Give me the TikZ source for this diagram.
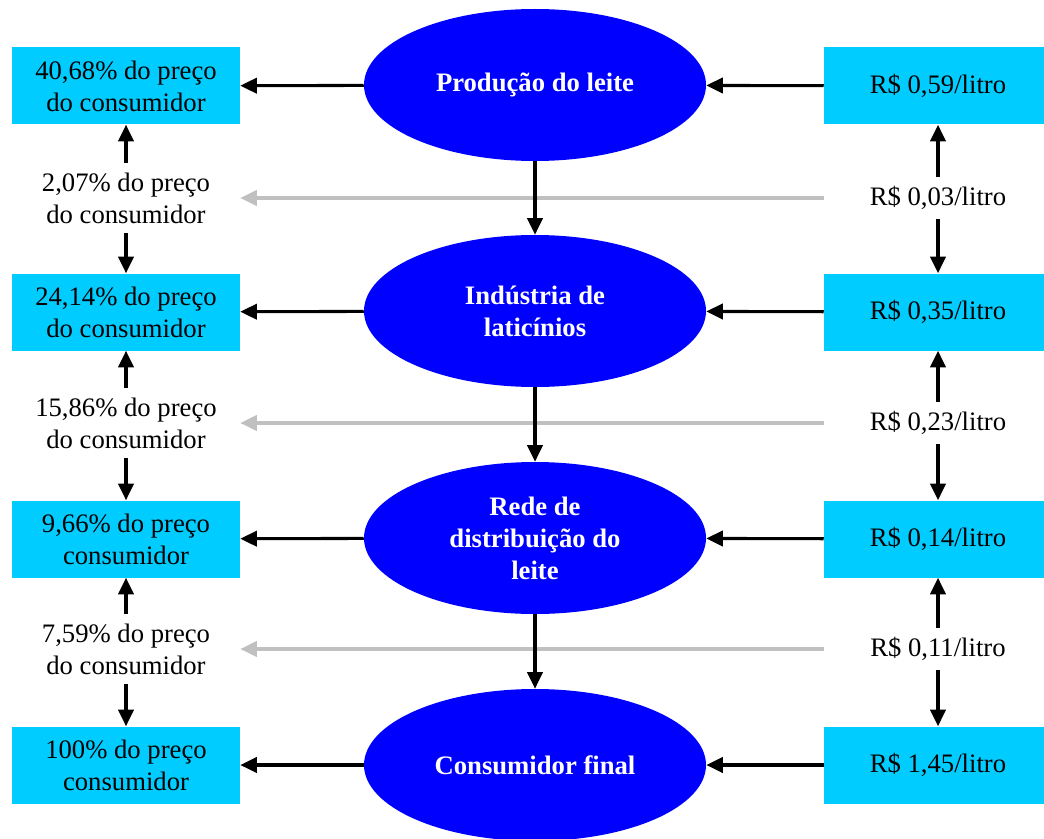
\documentclass[tikz,border=0pt]{standalone}
\usepackage{fontspec}
\setmainfont{Liberation Serif}
\usetikzlibrary{shapes.geometric,arrows.meta}
\definecolor{cxazul}{HTML}{00CCFF}
\definecolor{elazul}{HTML}{0000FF}
\definecolor{cinza}{HTML}{C0C0C0}

\begin{document}
\begin{tikzpicture}[x=0.75pt, y=-0.75pt, font=\fontsize{20}{24}\selectfont,
  caixa/.style={fill=cxazul, minimum width=171pt, minimum height=57.75pt,
                align=center, inner sep=2pt},
  etapa/.style={ellipse, fill=elazul, minimum width=256.5pt, minimum height=114pt,
                inner sep=0pt, align=center, text=white,
                font=\fontsize{20}{24}\selectfont\bfseries},
  parcela/.style={minimum width=171pt, align=center, inner sep=7pt},
  arr/.style={-{Triangle[length=12.5pt,width=11.5pt]}, line width=2.3pt},
  marg/.style={arr, color=cinza}]

\useasboundingbox (0,0) rectangle (1044,838);
\clip (0,0) rectangle (1044,838);

% etapas da cadeia
\node[etapa] (e1) at (535,85) {Produção do leite};
\node[etapa] (e2) at (535,311) {Indústria de\\laticínios};
\node[etapa] (e3) at (535,538) {Rede de\\distribuição do\\leite};
\node[etapa] (e4) at (535,765) {Consumidor final};

% participacao no preco
\node[caixa] (l1) at (126,86) {40,68\% do preço\\do consumidor};
\node[caixa] (l2) at (126,312) {24,14\% do preço\\do consumidor};
\node[caixa] (l3) at (126,539) {9,66\% do preço\\consumidor};
\node[caixa] (l4) at (126,765) {100\% do preço\\consumidor};

\node[parcela] (lm1) at (126,198) {2,07\% do preço\\do consumidor};
\node[parcela] (lm2) at (126,423) {15,86\% do preço\\do consumidor};
\node[parcela] (lm3) at (126,649) {7,59\% do preço\\do consumidor};

% valores por litro
\node[caixa] (r1) at (938,86) {R\$ 0,59/litro};
\node[caixa] (r2) at (938,312) {R\$ 0,35/litro};
\node[caixa] (r3) at (938,539) {R\$ 0,14/litro};
\node[caixa] (r4) at (938,765) {R\$ 1,45/litro};

\node[parcela] (rm1) at (938,198) {R\$ 0,03/litro};
\node[parcela] (rm2) at (938,423) {R\$ 0,23/litro};
\node[parcela] (rm3) at (938,649) {R\$ 0,11/litro};

% margens
\draw[marg] (rm1.west) -- (lm1.east);
\draw[marg] (rm2.west) -- (lm2.east);
\draw[marg] (rm3.west) -- (lm3.east);

\draw[arr] (e1) -- (l1);
\draw[arr] (e2) -- (l2);
\draw[arr] (e3) -- (l3);
\draw[arr] (e4) -- (l4);

\draw[arr] (r1) -- (e1);
\draw[arr] (r2) -- (e2);
\draw[arr] (r3) -- (e3);
\draw[arr] (r4) -- (e4);

\draw[arr] (e1) -- (e2);
\draw[arr] (e2) -- (e3);
\draw[arr] (e3) -- (e4);

\draw[arr] (lm1) -- (l1);
\draw[arr] (lm1) -- (l2);
\draw[arr] (lm2) -- (l2);
\draw[arr] (lm2) -- (l3);
\draw[arr] (lm3) -- (l3);
\draw[arr] (lm3) -- (l4);

\draw[arr] (rm1) -- (r1);
\draw[arr] (rm1) -- (r2);
\draw[arr] (rm2) -- (r2);
\draw[arr] (rm2) -- (r3);
\draw[arr] (rm3) -- (r3);
\draw[arr] (rm3) -- (r4);
\end{tikzpicture}
\end{document}
